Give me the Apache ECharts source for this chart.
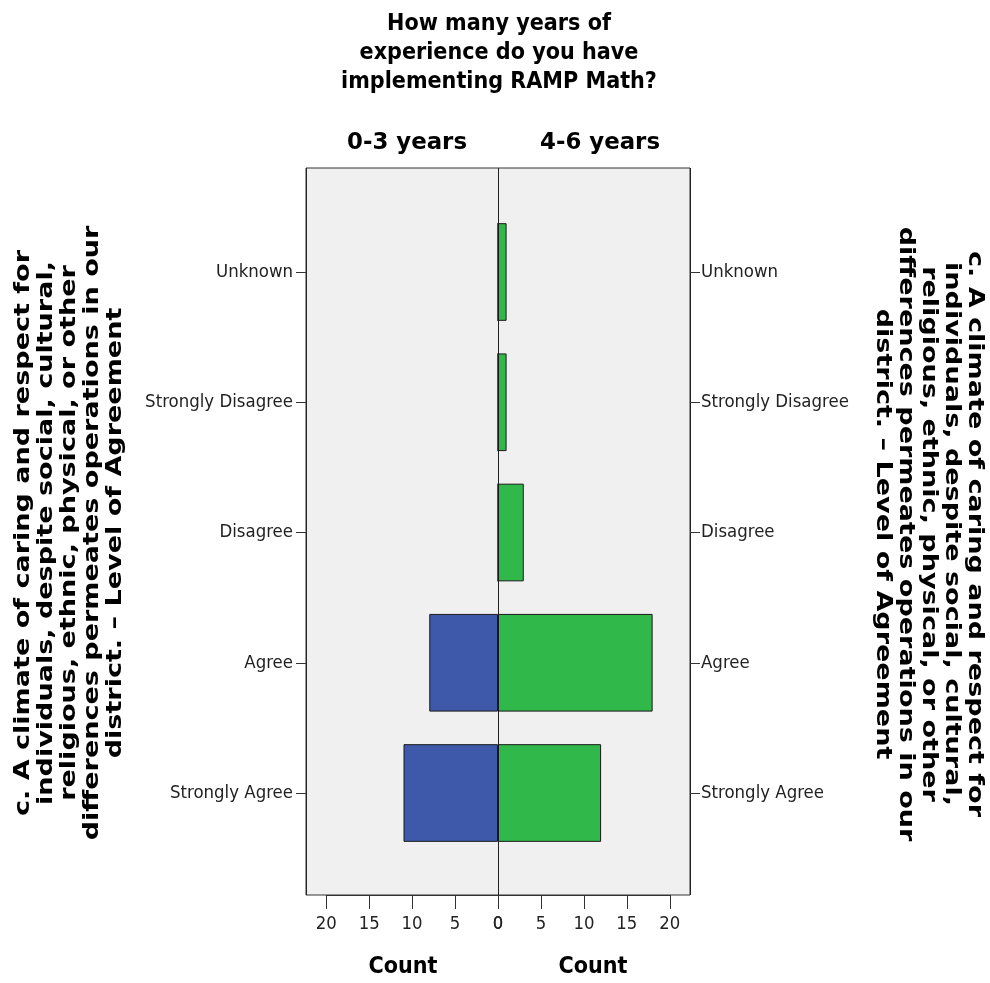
<!DOCTYPE html>
<html><head><meta charset="utf-8">
<script src="https://cdn.jsdelivr.net/npm/echarts@6/dist/echarts.min.js"></script>
<style>html,body{margin:0;padding:0;background:#fff}#c{width:990px;height:983px}</style>
</head><body><div id="c"></div>
<script>
// ---- data ----
const categories = ['Unknown', 'Strongly Disagree', 'Disagree', 'Agree', 'Strongly Agree'];
const countsLeft = [0, 0, 0, 8, 11];     // 0-3 years
const countsRight = [1, 1, 3, 18, 12];   // 4-6 years
const panelLabels = ['0-3 years', '4-6 years'];
const axisMax = 20;
const tickStep = 5;
const titleLines = ['How many years of', 'experience do you have', 'implementing RAMP Math?'];
const sideTitleLines = ['c. A climate of caring and respect for', 'individuals, despite social, cultural,', 'religious, ethnic, physical, or other', 'differences permeates operations in our', 'district. \u2013 Level of Agreement'];
const countLabel = 'Count';

// ---- layout ----
const FL = 306, FR = 690, FT = 168, FB = 895, CX = 498;
const firstC = 272, lastC = 793;
const band = (lastC - firstC) / (categories.length - 1);
const gTop = firstC - band / 2, gH = band * categories.length;
const PX = 8.59;                    // pixels per count
const half = axisMax * PX;          // width of 0..20
const COND = '"DejaVu Sans Condensed", "DejaVu Sans", sans-serif';
const WIDE = '"DejaVu Sans", sans-serif';

const mctx = document.createElement('canvas').getContext('2d');
function measure(text, weight, family, fs) {
  mctx.font = weight + ' ' + fs + 'px ' + family;
  return mctx.measureText(text).width;
}
function fit(text, weight, family, w) { return +(100 * w / measure(text, weight, family, 100)).toFixed(2); }
const titleFs = fit(titleLines[2], 'bold', COND, 316);
const panelFs = fit(panelLabels[0], 'bold', WIDE, 120);
const countFs = fit(countLabel, 'bold', COND, 69);
const sideFs = 21;
const sideScale = 566 / measure(sideTitleLines[0], 'bold', WIDE, sideFs);
const catFs = fit('Strongly Disagree', 'normal', COND, 148);
const tickFs = fit('20', 'normal', COND, 21);

function txt(text, x, y, fs, weight, family, rot, lh, sx) {
  return { type: 'text', x: x, y: y, rotation: rot || 0, scaleX: sx || 1, z: 10,
    style: { text: text, fontSize: fs, fontWeight: weight, fontFamily: family, fill: '#000',
      textAlign: 'center', textVerticalAlign: 'middle', lineHeight: lh || fs * 1.1 } };
}

const graphics = [];
const titleY = [24, 53, 82];
titleLines.forEach((t, i) => graphics.push(txt(t, 499, titleY[i], titleFs, 'bold', COND)));
graphics.push(txt(panelLabels[0], 407, 143, panelFs, 'bold', WIDE));
graphics.push(txt(panelLabels[1], 600, 143, panelFs, 'bold', WIDE));
graphics.push(txt(countLabel, 403, 967, countFs, 'bold', COND));
graphics.push(txt(countLabel, 593, 967, countFs, 'bold', COND));
graphics.push(txt(sideTitleLines.join('\n'), 70, 533, sideFs, 'bold', WIDE, Math.PI / 2, 23, sideScale));
graphics.push(txt(sideTitleLines.join('\n'), 928, 534, sideFs, 'bold', WIDE, -Math.PI / 2, 23, sideScale));

const xOff = FB - (gTop + gH);
const yOff = (CX - FL) - half;
function xAxisFor(grid, inverse) {
  return { gridIndex: grid, type: 'value', min: 0, max: axisMax, interval: tickStep, inverse: inverse, position: 'bottom', offset: xOff,
    axisLine: { show: true, onZero: false, lineStyle: { color: '#333', width: 1 } },
    axisTick: { show: true, inside: false, length: 14, lineStyle: { color: '#333', width: 1 } },
    axisLabel: { show: true, fontSize: tickFs, fontFamily: COND, color: '#222', margin: 20 },
    splitLine: { show: false } };
}
function yAxisFor(grid, pos, margin) {
  return { gridIndex: grid, type: 'category', data: categories, inverse: true, position: pos, offset: yOff,
    axisLine: { show: false, onZero: false }, axisTick: { show: true, alignWithLabel: true, length: 10, lineStyle: { color: '#333' } },
    axisLabel: { fontSize: catFs, fontFamily: COND, color: '#222', margin: margin }, splitLine: { show: false } };
}

const option = {
  animation: false,
  backgroundColor: '#fff',
  grid: [
    { left: FL, top: FT, width: FR - FL, height: FB - FT, show: true, backgroundColor: '#f0f0f0', borderColor: '#333', borderWidth: 1 },
    { left: CX - half, top: gTop, width: half, height: gH },
    { left: CX, top: gTop, width: half, height: gH }
  ],
  xAxis: [
    { gridIndex: 0, type: 'value', min: -1, max: 1, interval: 1, axisLine: { show: false }, axisTick: { show: false }, axisLabel: { show: false },
      splitLine: { show: true, lineStyle: { color: '#222', width: 1 } } },
    xAxisFor(1, true),
    xAxisFor(2, false)
  ],
  yAxis: [
    { gridIndex: 0, type: 'value', min: 0, max: 1, show: false },
    yAxisFor(1, 'left', 13),
    yAxisFor(2, 'right', 11)
  ],
  series: [
    { type: 'bar', name: panelLabels[0], xAxisIndex: 1, yAxisIndex: 1, data: countsLeft, barWidth: '75%',
      itemStyle: { color: '#3e58aa', borderColor: '#1a1a1a', borderWidth: 1 } },
    { type: 'bar', name: panelLabels[1], xAxisIndex: 2, yAxisIndex: 2, data: countsRight, barWidth: '75%',
      itemStyle: { color: '#30b84a', borderColor: '#1a1a1a', borderWidth: 1 } }
  ],
  graphic: graphics
};
const chart = echarts.init(document.getElementById('c'), null, { renderer: 'canvas' });
chart.setOption(option);
</script>
</body></html>
